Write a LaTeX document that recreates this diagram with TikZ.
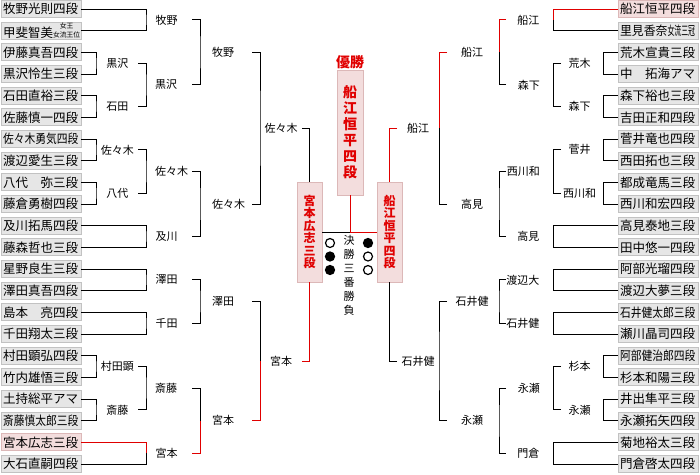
\documentclass[tikz,border=0pt]{standalone}
\usepackage{fontspec}
\setmainfont{Noto Sans CJK JP}
\usepackage{graphicx}
\usetikzlibrary{calc}
\definecolor{winred}{HTML}{E00000}
\definecolor{boxfill}{HTML}{E6E6E6}
\definecolor{boxedge}{HTML}{C2C2C2}
\definecolor{pinkfill}{HTML}{F3DDDD}
\definecolor{pinkedge}{HTML}{DCB8B8}
\newcommand{\tightname}[1]{\scalebox{0.86}[1]{#1}}
\newcommand{\titlestack}{{\fontsize{6.8}{7}\selectfont\shortstack{女王\\女流王位}}}

\begin{document}
\begin{tikzpicture}[
  x=1pt, y=-1pt,
  player/.style={draw=boxedge, fill=boxfill, line width=0.8pt, minimum height=17pt, text width=76pt, inner xsep=2pt, inner ysep=0pt, align=left, font=\fontsize{12.5}{13}\selectfont},
  champ/.style={player, draw=pinkedge, fill=pinkfill},
  lbl/.style={inner sep=0pt, font=\fontsize{11}{11}\selectfont},
  finalbox/.style={draw=pinkedge, fill=pinkfill, line width=0.8pt, minimum width=25pt, minimum height=100pt, inner sep=0pt, align=center, text=winred, font=\bfseries\fontsize{12}{12.5}\selectfont},
  wire/.style={draw=black, line width=1pt},
  winwire/.style={draw=winred, line width=1pt},
  won/.style={circle, draw=black, line width=1.2pt, fill=white, minimum size=9pt, inner sep=0pt},
  lost/.style={won, fill=black}
]
  \useasboundingbox (0,0) rectangle (700,474);

  % entrants
  \foreach \pname/\pstyle [count=\i from 0] in {
    牧野光則四段/player, 甲斐智美\titlestack/player, 伊藤真吾四段/player, 黒沢怜生三段/player,
    石田直裕三段/player, 佐藤慎一四段/player, \tightname{佐々木勇気四段}/player, 渡辺愛生三段/player,
    八代　弥三段/player, 藤倉勇樹四段/player, 及川拓馬四段/player, 藤森哲也三段/player,
    星野良生三段/player, 澤田真吾四段/player, 島本　亮四段/player, 千田翔太三段/player,
    村田顕弘四段/player, 竹内雄悟三段/player, 土持総平アマ/player, \tightname{斎藤慎太郎三段}/player,
    宮本広志三段/champ, 大石直嗣四段/player}
    \node[\pstyle] (L\i) at (41,{9+21.667*\i}) {\pname};
  \foreach \pname/\pstyle [count=\i from 0] in {
    船江恒平四段/champ, \scalebox{0.95}[1]{里見香奈\scalebox{0.58}[1]{女流三冠}}/player, 荒木宣貴三段/player, 中　拓海アマ/player,
    森下裕也三段/player, 吉田正和四段/player, 菅井竜也四段/player, 西田拓也三段/player,
    都成竜馬三段/player, 西川和宏四段/player, 高見泰地三段/player, 田中悠一四段/player,
    阿部光瑠四段/player, 渡辺大夢三段/player, \tightname{石井健太郎三段}/player, 瀬川晶司四段/player,
    \tightname{阿部健治郎四段}/player, 杉本和陽三段/player, 井出隼平三段/player, 永瀬拓矢四段/player,
    菊地裕太三段/player, 門倉啓太四段/player}
    \node[\pstyle] (R\i) at (658,{9+21.667*\i}) {\pname};

  % final
  \node[finalbox] (fL) at (309.5,232) {宮\\本\\広\\志\\三\\段};
  \node[finalbox] (fR) at (389.5,232) {船\\江\\恒\\平\\四\\段};
  \node[finalbox, minimum width=26pt, minimum height=125pt, font=\bfseries\fontsize{14}{16}\selectfont] (win) at (350,132.5) {船\\江\\恒\\平\\四\\段};
  \node[text=winred, inner sep=0pt, font=\bfseries\fontsize{14}{14}\selectfont] (yusho) at (350,62) {優勝};
  \node[won] (mL1) at (330,243) {};
  \node[lost] (mL2) at (330,256.5) {};
  \node[lost] (mL3) at (330,270) {};
  \node[lost] (mR1) at (368,243) {};
  \node[won] (mR2) at (368,256.5) {};
  \node[won] (mR3) at (368,270) {};
  \node[inner sep=0pt, align=center, font=\fontsize{11}{14}\selectfont] (kessho) at (349,275) {決\\勝\\三\\番\\勝\\負};

  % columns
  \coordinate (v1) at (96,0);  \coordinate (t2) at (138,0); \coordinate (v2) at (146,0);
  \coordinate (t3) at (192,0); \coordinate (v3) at (200,0); \coordinate (t4) at (252,0);
  \coordinate (v4) at (260,0); \coordinate (t5) at (302,0);
  \coordinate (w1) at (603,0); \coordinate (s2) at (561,0); \coordinate (w2) at (553,0);
  \coordinate (s3) at (506,0); \coordinate (w3) at (499,0); \coordinate (s4) at (447,0);
  \coordinate (w4) at (439,0); \coordinate (s5) at (397,0);

  % left, round 1
  \node[lbl] (la1) at ($(L2.east)!.5!(L3.east)+(36,0)$) {黒沢};
  \node[lbl] (la2) at ($(L4.east)!.5!(L5.east)+(36,0)$) {石田};
  \node[lbl] (la3) at ($(L6.east)!.5!(L7.east)+(36,0)$) {佐々木};
  \node[lbl] (la4) at ($(L8.east)!.5!(L9.east)+(36,0)$) {八代};
  \node[lbl] (la5) at ($(L16.east)!.5!(L17.east)+(36,0)$) {村田顕};
  \node[lbl] (la6) at ($(L18.east)!.5!(L19.east)+(36,0)$) {斎藤};
  \foreach \a/\b/\w in {2/3/la1,4/5/la2,6/7/la3,8/9/la4,16/17/la5,18/19/la6}
    \draw[wire] (L\a.east) -| (v1 |- \w) |- (L\b.east);

  % left, round 2
  \node[lbl, anchor=west] (lb1) at ($(L0.east)!.5!(L1.east)+(74,0)$) {牧野};
  \node[lbl, anchor=west] (lb2) at ($(t2 |- la1)!.5!(t2 |- la2)+(17,0)$) {黒沢};
  \node[lbl, anchor=west] (lb3) at ($(t2 |- la3)!.5!(t2 |- la4)+(17,0)$) {佐々木};
  \node[lbl, anchor=west] (lb4) at ($(L10.east)!.5!(L11.east)+(74,0)$) {及川};
  \node[lbl, anchor=west] (lb5) at ($(L12.east)!.5!(L13.east)+(74,0)$) {澤田};
  \node[lbl, anchor=west] (lb6) at ($(L14.east)!.5!(L15.east)+(74,0)$) {千田};
  \node[lbl, anchor=west] (lb7) at ($(t2 |- la5)!.5!(t2 |- la6)+(17,0)$) {斎藤};
  \node[lbl, anchor=west] (lb8) at ($(L20.east)!.5!(L21.east)+(74,0)$) {宮本};
  \draw[wire] (L0.east) -| (v2 |- lb1) |- (L1.east);
  \draw[wire] (t2 |- la1) -| (v2 |- lb2) |- (t2 |- la2);
  \draw[wire] (t2 |- la3) -| (v2 |- lb3) |- (t2 |- la4);
  \draw[wire] (L10.east) -| (v2 |- lb4) |- (L11.east);
  \draw[wire] (L12.east) -| (v2 |- lb5) |- (L13.east);
  \draw[wire] (L14.east) -| (v2 |- lb6) |- (L15.east);
  \draw[wire] (t2 |- la5) -| (v2 |- lb7) |- (t2 |- la6);
  \draw[winwire] (L20.east) -| (v2 |- lb8);
  \draw[wire] (L21.east) -| (v2 |- lb8);

  % left, round 3
  \node[lbl, anchor=west] (lc1) at ($(t3 |- lb1)!.5!(t3 |- lb2)+(20,0)$) {牧野};
  \node[lbl, anchor=west] (lc2) at ($(t3 |- lb3)!.5!(t3 |- lb4)+(20,0)$) {佐々木};
  \node[lbl, anchor=west] (lc3) at ($(t3 |- lb5)!.5!(t3 |- lb6)+(20,0)$) {澤田};
  \node[lbl, anchor=west] (lc4) at ($(t3 |- lb7)!.5!(t3 |- lb8)+(20,0)$) {宮本};
  \draw[wire] (t3 |- lb1) -| (v3 |- lc1) |- (t3 |- lb2);
  \draw[wire] (t3 |- lb3) -| (v3 |- lc2) |- (t3 |- lb4);
  \draw[wire] (t3 |- lb5) -| (v3 |- lc3) |- (t3 |- lb6);
  \draw[wire] (t3 |- lb7) -| (v3 |- lc4);
  \draw[winwire] (t3 |- lb8) -| (v3 |- lc4);

  % left, round 4 and semi-final
  \node[lbl] (ld1) at ($(t4 |- lc1)!.5!(t4 |- lc2)+(29,0)$) {佐々木};
  \node[lbl] (ld2) at ($(t4 |- lc3)!.5!(t4 |- lc4)+(29,0)$) {宮本};
  \draw[wire] (t4 |- lc1) -| (v4 |- ld1) |- (t4 |- lc2);
  \draw[wire] (t4 |- lc3) -| (v4 |- ld2);
  \draw[winwire] (t4 |- lc4) -| (v4 |- ld2);
  \draw[wire] (t5 |- ld1) -| (fL.north);
  \draw[winwire] (t5 |- ld2) -| (fL.south);

  % right, round 1
  \node[lbl] (ra1) at ($(R2.west)!.5!(R3.west)+(-38,0)$) {荒木};
  \node[lbl] (ra2) at ($(R4.west)!.5!(R5.west)+(-38,0)$) {森下};
  \node[lbl] (ra3) at ($(R6.west)!.5!(R7.west)+(-38,0)$) {菅井};
  \node[lbl] (ra4) at ($(R8.west)!.5!(R9.west)+(-38,0)$) {西川和};
  \node[lbl] (ra5) at ($(R16.west)!.5!(R17.west)+(-38,0)$) {杉本};
  \node[lbl] (ra6) at ($(R18.west)!.5!(R19.west)+(-38,0)$) {永瀬};
  \foreach \a/\b/\w in {2/3/ra1,4/5/ra2,6/7/ra3,8/9/ra4,16/17/ra5,18/19/ra6}
    \draw[wire] (R\a.west) -| (w1 |- \w) |- (R\b.west);

  % right, round 2
  \node[lbl, anchor=east] (rb1) at ($(R0.west)!.5!(R1.west)+(-78,0)$) {船江};
  \node[lbl, anchor=east] (rb2) at ($(s2 |- ra1)!.5!(s2 |- ra2)+(-21,0)$) {森下};
  \node[lbl, anchor=east] (rb3) at ($(s2 |- ra3)!.5!(s2 |- ra4)+(-21,0)$) {西川和};
  \node[lbl, anchor=east] (rb4) at ($(R10.west)!.5!(R11.west)+(-78,0)$) {高見};
  \node[lbl, anchor=east] (rb5) at ($(R12.west)!.5!(R13.west)+(-78,0)$) {渡辺大};
  \node[lbl, anchor=east] (rb6) at ($(R14.west)!.5!(R15.west)+(-78,0)$) {石井健};
  \node[lbl, anchor=east] (rb7) at ($(s2 |- ra5)!.5!(s2 |- ra6)+(-21,0)$) {永瀬};
  \node[lbl, anchor=east] (rb8) at ($(R20.west)!.5!(R21.west)+(-78,0)$) {門倉};
  \draw[winwire] (R0.west) -| (w2 |- rb1);
  \draw[wire] (R1.west) -| (w2 |- rb1);
  \draw[wire] (s2 |- ra1) -| (w2 |- rb2) |- (s2 |- ra2);
  \draw[wire] (s2 |- ra3) -| (w2 |- rb3) |- (s2 |- ra4);
  \draw[wire] (R10.west) -| (w2 |- rb4) |- (R11.west);
  \draw[wire] (R12.west) -| (w2 |- rb5) |- (R13.west);
  \draw[wire] (R14.west) -| (w2 |- rb6) |- (R15.west);
  \draw[wire] (s2 |- ra5) -| (w2 |- rb7) |- (s2 |- ra6);
  \draw[wire] (R20.west) -| (w2 |- rb8) |- (R21.west);

  % right, round 3
  \node[lbl] (rc1) at ($(s3 |- rb1)!.5!(s3 |- rb2)+(-34,0)$) {船江};
  \node[lbl] (rc2) at ($(s3 |- rb3)!.5!(s3 |- rb4)+(-34,0)$) {高見};
  \node[lbl] (rc3) at ($(s3 |- rb5)!.5!(s3 |- rb6)+(-34,0)$) {石井健};
  \node[lbl] (rc4) at ($(s3 |- rb7)!.5!(s3 |- rb8)+(-34,0)$) {永瀬};
  \draw[winwire] (s3 |- rb1) -| (w3 |- rc1);
  \draw[wire] (s3 |- rb2) -| (w3 |- rc1);
  \draw[wire] (s3 |- rb3) -| (w3 |- rc2) |- (s3 |- rb4);
  \draw[wire] (s3 |- rb5) -| (w3 |- rc3) |- (s3 |- rb6);
  \draw[wire] (s3 |- rb7) -| (w3 |- rc4) |- (s3 |- rb8);

  % right, round 4 and semi-final
  \node[lbl] (rd1) at ($(s4 |- rc1)!.5!(s4 |- rc2)+(-29,0)$) {船江};
  \node[lbl] (rd2) at ($(s4 |- rc3)!.5!(s4 |- rc4)+(-29,0)$) {石井健};
  \draw[winwire] (s4 |- rc1) -| (w4 |- rd1);
  \draw[wire] (s4 |- rc2) -| (w4 |- rd1);
  \draw[wire] (s4 |- rc3) -| (w4 |- rd2) |- (s4 |- rc4);
  \draw[winwire] (s5 |- rd1) -| (fR.north);
  \draw[wire] (s5 |- rd2) -| (fR.south);

  % final
  \coordinate (j) at (win.south |- fL.east);
  \draw[wire] (fL.east) -- (j);
  \draw[winwire] (fR.west) -- (j) -- (win.south);
\end{tikzpicture}
\end{document}
